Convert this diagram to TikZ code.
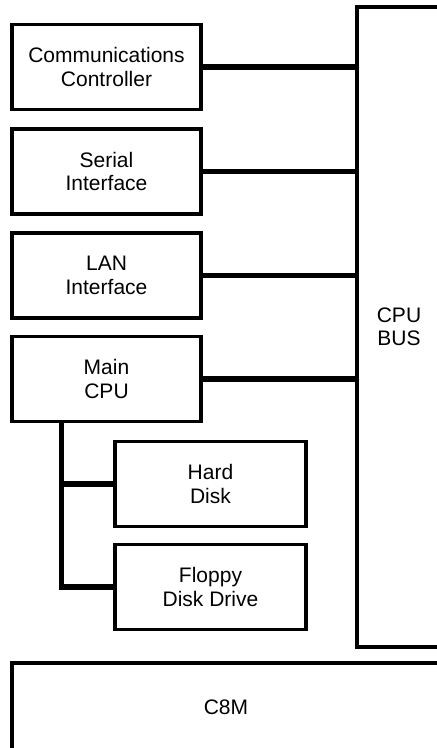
\documentclass[tikz,border=0pt]{standalone}
\usepackage{fontspec}
\setmainfont{Liberation Sans}
\begin{document}
\begin{tikzpicture}[x=1pt,y=1pt,
  box/.style={draw, line width=3.5pt, rectangle, align=center, inner sep=0pt,
    font=\fontsize{21}{23.5}\selectfont},
  unitbox/.style={box, minimum width=189pt, minimum height=85pt},
  diskbox/.style={box, minimum width=191pt, minimum height=85pt},
  conn/.style={line width=5.5pt}]
\useasboundingbox (0,0) rectangle (437,-748);
\begin{scope}
\clip (0,0) rectangle (437,-748);
\node[box, minimum width=84pt, minimum height=640pt] (bus) at (399,-327) {CPU\\BUS};
\node[box, minimum width=428pt, minimum height=88pt] (c8m) at (226,-707) {C8M};
\end{scope}
\node[unitbox] (comm) at (106.5,-67) {Communications\\Controller};
\node[unitbox] (serial) at (106.5,-171.5) {Serial\\Interface};
\node[unitbox] (lan) at (106.5,-275.5) {LAN\\Interface};
\node[unitbox] (cpu) at (106.5,-379) {Main\\CPU};
\node[diskbox] (hard) at (210.5,-484) {Hard\\Disk};
\node[diskbox] (floppy) at (210.5,-587) {Floppy\\Disk Drive};
\foreach \n in {comm,serial,lan,cpu}
  \draw[conn] (\n.east) -- (\n.east -| bus.west);
\coordinate (tap) at ([xshift=51pt]cpu.south west);
\draw[conn] (tap) |- (floppy.west);
\draw[conn] (hard.west) -- (hard.west -| tap);
\end{tikzpicture}
\end{document}
